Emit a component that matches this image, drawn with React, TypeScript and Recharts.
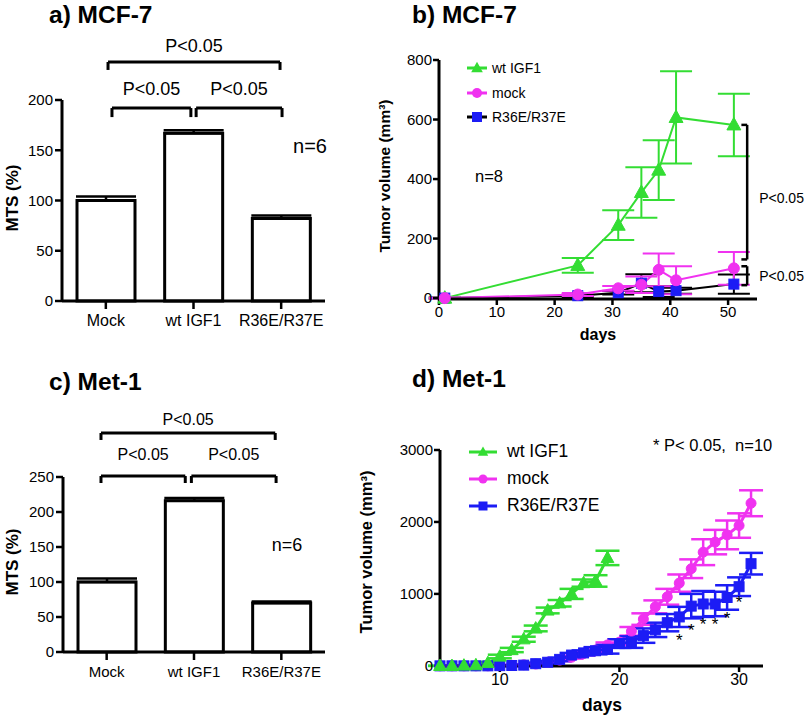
import React from 'react';
import {
  BarChart, Bar, LineChart, Line, XAxis, YAxis, ErrorBar,
  ReferenceLine, ReferenceDot, Legend,
} from 'recharts';

const GREEN = '#33dd33';
const MAGENTA = '#f032f0';
const BLUE = '#1c1cf5';
const FONT = '"Liberation Sans", Arial, Helvetica, sans-serif';

// ---------- Panel a / c : MTS bars ----------
const groups = ['Mock', 'wt IGF1', 'R36E/R37E'];
const groupPos = [0.5, 1.5, 2.5];
const mtsA = [100, 167, 82];
const mtsErrA = [4, 3, 3];
const mtsC = [100, 216, 70];
const mtsErrC = [5, 4, 2];
const mtsTicksA = [0, 50, 100, 150, 200];
const mtsTicksC = [0, 50, 100, 150, 200, 250];

// brackets (group-position units on x, MTS units on y)
const bracketsA = [
  { x1: 0.525, x2: 2.487, y: 237.8, tick: 229.9, label: 'P<0.05', offset: 10 },
  { x1: 0.57, x2: 1.47, y: 192, tick: 183, label: 'P<0.05', offset: 13 },
  { x1: 1.53, x2: 2.51, y: 192, tick: 183, label: 'P<0.05', offset: 13 },
];
const bracketsC = [
  { x1: 0.435, x2: 2.43, y: 312.9, tick: 302.9, label: 'P<0.05', offset: 8 },
  { x1: 0.435, x2: 1.4, y: 251.4, tick: 241.4, label: 'P<0.05', offset: 16 },
  { x1: 1.47, x2: 2.44, y: 251.4, tick: 241.4, label: 'P<0.05', offset: 16 },
];

// ---------- Panel b : MCF-7 tumor volume ----------
const daysB = [1, 24, 31, 35, 38, 41, 51];
const wtB = [0, 110, 245, 355, 430, 607, 582];
const wtErrB = [3, 25, 50, 85, 100, 155, 105];
const mockB = [0, 12, 33, 45, 95, 60, 100];
const mockErrB = [2, 5, 8, 28, 55, 47, 55];
const mutB = [0, 8, 18, 50, 22, 25, 47];
const mutErrB = [2, 4, 6, 30, 18, 10, 32];
const ticksBx = [0, 10, 20, 30, 40, 50];
const ticksBy = [0, 200, 400, 600, 800];

// ---------- Panel d : Met-1 tumor volume ----------
const daysD = [5, 6, 7, 8, 9, 10, 11, 12, 13, 14, 15, 16, 17, 18, 19, 20, 21, 22, 23, 24, 25, 26, 27, 28, 29, 30, 31];
const wtD = [0, 0, 5, 10, 40, 130, 220, 370, 520, 770, 870, 1000, 1150, 1180, 1500];
const wtErrD = [2, 2, 5, 8, 15, 25, 30, 35, 40, 40, 45, 70, 50, 80, 100];
const mockD = [0, 0, 0, 0, 0, 5, 8, 15, 25, 50, 80, 120, 170, 220, 290, 330, 480, 650, 820, 960, 1150, 1350, 1580, 1720, 1820, 1950, 2260];
const mockErrD = [0, 0, 0, 0, 0, 3, 5, 8, 10, 12, 15, 20, 25, 30, 35, 40, 60, 80, 90, 110, 120, 130, 180, 170, 200, 170, 180];
const mutD = [0, 0, 0, 0, 0, 3, 5, 10, 30, 50, 90, 150, 180, 210, 230, 310, 330, 420, 500, 600, 680, 830, 860, 860, 950, 1100, 1420];
const mutErrD = [0, 0, 0, 0, 0, 3, 5, 8, 15, 20, 25, 30, 35, 50, 60, 60, 80, 100, 100, 120, 140, 170, 180, 170, 170, 130, 150];
const starDays = [25, 26, 27, 28, 29, 30];
const starLevels = [360, 500, 585, 585, 670, 890];
const ticksDx = [10, 20, 30];
const ticksDy = [0, 1000, 2000, 3000];

const barDataA = groups.map((g, i) => ({ name: g, pos: groupPos[i], v: mtsA[i], e: [0, mtsErrA[i]] }));
const barDataC = groups.map((g, i) => ({ name: g, pos: groupPos[i], v: mtsC[i], e: [0, mtsErrC[i]] }));
const lineDataB = daysB.map((d, i) => ({
  day: d, wt: wtB[i], wtE: wtErrB[i], mock: mockB[i], mockE: mockErrB[i], mut: mutB[i], mutE: mutErrB[i],
}));
const lineDataD = daysD.map((d, i) => ({
  day: d,
  wt: i < wtD.length ? wtD[i] : null,
  wtE: i < wtErrD.length ? wtErrD[i] : null,
  mock: mockD[i], mockE: mockErrD[i], mut: mutD[i], mutE: mutErrD[i],
}));

// ---------- marker shapes ----------
const triPath = (cx: number, cy: number, s: number) =>
  `M${cx},${cy - s * 0.62} L${cx + s * 0.58},${cy + s * 0.42} L${cx - s * 0.58},${cy + s * 0.42} Z`;

const triDot = (color: string, s: number) => (p: any) => {
  const { cx, cy, index } = p;
  if (cx == null || cy == null || p.value == null) return <g key={`t${index}`} />;
  return <path key={`t${index}`} d={triPath(cx, cy, s)} fill={color} stroke={color} strokeWidth={1} />;
};
const circDot = (color: string, r: number) => (p: any) => {
  const { cx, cy, index } = p;
  if (cx == null || cy == null || p.value == null) return <g key={`c${index}`} />;
  return <circle key={`c${index}`} cx={cx} cy={cy} r={r} fill={color} stroke={color} strokeWidth={1} />;
};
const sqDot = (color: string, s: number) => (p: any) => {
  const { cx, cy, index } = p;
  if (cx == null || cy == null || p.value == null) return <g key={`s${index}`} />;
  return <rect key={`s${index}`} x={cx - s / 2} y={cy - s / 2} width={s} height={s} fill={color} stroke={color} strokeWidth={1} />;
};

type LegendItem = { name: string; line: string; marker: string; shape: 'tri' | 'circ' | 'sq' };

const LegendBox = ({ items, lineW, gap, rowH, fontSize, ms }: { items: LegendItem[]; lineW: number; gap: number; rowH: number; fontSize: number; ms: number }) => (
  <div style={{ fontFamily: FONT, fontSize, color: '#000', lineHeight: 1 }}>
    {items.map((it) => {
      const c = lineW / 2;
      const cy = 8;
      return (
        <div key={it.name} style={{ display: 'flex', alignItems: 'center', height: rowH }}>
          <svg width={lineW} height={16} style={{ display: 'block' }}>
            <line x1={0} y1={cy} x2={lineW} y2={cy} stroke={it.line} strokeWidth={3} />
            {it.shape === 'tri' && <path d={triPath(c, cy, ms)} fill={it.marker} />}
            {it.shape === 'circ' && <circle cx={c} cy={cy} r={ms / 2} fill={it.marker} />}
            {it.shape === 'sq' && <rect x={c - ms / 2} y={cy - ms / 2} width={ms} height={ms} fill={it.marker} />}
          </svg>
          <span style={{ marginLeft: gap, whiteSpace: 'nowrap' }}>{it.name}</span>
        </div>
      );
    })}
  </div>
);

const legendB: LegendItem[] = [
  { name: 'wt IGF1', line: GREEN, marker: GREEN, shape: 'tri' },
  { name: 'mock', line: MAGENTA, marker: MAGENTA, shape: 'circ' },
  { name: 'R36E/R37E', line: '#000', marker: BLUE, shape: 'sq' },
];
const legendD: LegendItem[] = [
  { name: 'wt IGF1', line: GREEN, marker: GREEN, shape: 'tri' },
  { name: 'mock', line: MAGENTA, marker: MAGENTA, shape: 'circ' },
  { name: 'R36E/R37E', line: BLUE, marker: BLUE, shape: 'sq' },
];

const axisLine = { stroke: '#000', strokeWidth: 3 };
const tickLine = { stroke: '#000', strokeWidth: 2.5 };

function bracketEls(list: typeof bracketsA, fontSize: number, prefix: string) {
  const out: React.ReactNode[] = [];
  list.forEach((b, i) => {
    out.push(
      <ReferenceLine key={`${prefix}h${i}`} ifOverflow="visible"
        segment={[{ x: b.x1, y: b.y }, { x: b.x2, y: b.y }]}
        stroke="#000" strokeWidth={3}
        label={{ value: b.label, position: 'top', offset: b.offset, fill: '#000', fontSize }} />,
      <ReferenceLine key={`${prefix}l${i}`} ifOverflow="visible"
        segment={[{ x: b.x1, y: b.y }, { x: b.x1, y: b.tick }]} stroke="#000" strokeWidth={3} />,
      <ReferenceLine key={`${prefix}r${i}`} ifOverflow="visible"
        segment={[{ x: b.x2, y: b.y }, { x: b.x2, y: b.tick }]} stroke="#000" strokeWidth={3} />,
    );
  });
  return out;
}

function MtsChart({ data, ticks, max, brackets, top, bottom, yW, xFont, bFont, prefix, h }: any) {
  return (
    <BarChart width={400} height={h} data={data}
      margin={{ top, right: 75, bottom, left: 0 }}>
      <XAxis dataKey="pos" type="number" domain={[0, 3]} ticks={groupPos} allowDataOverflow
        tickFormatter={(v: number) => groups[Math.floor(v)]}
        axisLine={axisLine} tickLine={tickLine} tickSize={8} tickMargin={6}
        height={40} tick={{ fill: '#000', fontSize: xFont }} interval={0} />
      <YAxis width={yW} domain={[0, max]} ticks={ticks} axisLine={axisLine} tickLine={tickLine}
        tickSize={7} tickMargin={2} tick={{ fill: '#000', fontSize: 15 }} interval={0} />
      <Bar dataKey="v" fill="#fff" stroke="#000" strokeWidth={3} barSize={58} isAnimationActive={false}>
        <ErrorBar dataKey="e" width={30} stroke="#000" strokeWidth={2.5} direction="y" />
      </Bar>
      {bracketEls(brackets, bFont, prefix)}
    </BarChart>
  );
}

const T = ({ x, y, children, size, bold, anchor = 'start', rot }: any) => (
  <text x={x} y={y} fontSize={size} fontWeight={bold ? 'bold' : 'normal'} textAnchor={anchor}
    dominantBaseline={rot != null ? 'central' : 'auto'} fill="#000"
    transform={rot != null ? `rotate(${rot} ${x} ${y})` : undefined} style={{ whiteSpace: 'pre' }}>
    {children}
  </text>
);

export default function App() {
  return (
    <div style={{ position: 'absolute', left: 0, top: 0, width: 805, height: 717, background: '#fff', fontFamily: FONT, overflow: 'hidden' }}>
      {/* a */}
      <div style={{ position: 'absolute', left: 0, top: 0 }}>
        <MtsChart data={barDataA} ticks={mtsTicksA} max={200} brackets={bracketsA} top={100} bottom={9} yW={62} xFont={16} bFont={18} prefix="a" h={350} />
      </div>
      {/* c */}
      <div style={{ position: 'absolute', left: 0, top: 360 }}>
        <MtsChart data={barDataC} ticks={mtsTicksC} max={250} brackets={bracketsC} top={117} bottom={25} yW={63} xFont={15} bFont={16} prefix="c" h={357} />
      </div>
      {/* b */}
      <div style={{ position: 'absolute', left: 360, top: 0 }}>
        <LineChart width={445} height={345} data={lineDataB} margin={{ top: 60, right: 48, bottom: 16, left: 0 }}>
          <XAxis dataKey="day" type="number" domain={[0, 55]} ticks={ticksBx} axisLine={axisLine} tickLine={tickLine}
            tickSize={6} tickMargin={1} height={30} tick={{ fill: '#000', fontSize: 15 }} interval={0} />
          <YAxis width={79} domain={[0, 800]} ticks={ticksBy} axisLine={axisLine} tickLine={tickLine}
            tickSize={6} tickMargin={1} tick={{ fill: '#000', fontSize: 15 }} interval={0} />
          <Legend layout="vertical" align="center" verticalAlign="middle"
            wrapperStyle={{ left: 107, top: 56, width: 'auto' }}
            content={() => <LegendBox items={legendB} lineW={20} gap={5} rowH={24.5} fontSize={14} ms={10} />} />
          <Line dataKey="mut" stroke="#000" strokeWidth={2} dot={sqDot(BLUE, 10)} isAnimationActive={false} legendType="none">
            <ErrorBar dataKey="mutE" width={16} stroke="#000" strokeWidth={2} direction="y" />
          </Line>
          <Line dataKey="wt" stroke={GREEN} strokeWidth={2} dot={triDot(GREEN, 12)} isAnimationActive={false}>
            <ErrorBar dataKey="wtE" width={16} stroke={GREEN} strokeWidth={2} direction="y" />
          </Line>
          <Line dataKey="mock" stroke={MAGENTA} strokeWidth={2} dot={circDot(MAGENTA, 5.5)} isAnimationActive={false}>
            <ErrorBar dataKey="mockE" width={16} stroke={MAGENTA} strokeWidth={2} direction="y" />
          </Line>
          <ReferenceLine ifOverflow="visible" segment={[{ x: 53.3, y: 582 }, { x: 53.3, y: 130 }]} stroke="#000" strokeWidth={2.5}
            label={{ value: 'P<0.05', position: 'right', offset: 12, fill: '#000', fontSize: 14, dy: 6 }} />
          <ReferenceLine ifOverflow="visible" segment={[{ x: 52.3, y: 582 }, { x: 53.3, y: 582 }]} stroke="#000" strokeWidth={2.5} />
          <ReferenceLine ifOverflow="visible" segment={[{ x: 52.3, y: 130 }, { x: 53.3, y: 130 }]} stroke="#000" strokeWidth={2.5} />
          <ReferenceLine ifOverflow="visible" segment={[{ x: 53.3, y: 107 }, { x: 53.3, y: 43.5 }]} stroke="#000" strokeWidth={2.5}
            label={{ value: 'P<0.05', position: 'right', offset: 12, fill: '#000', fontSize: 14 }} />
          <ReferenceLine ifOverflow="visible" segment={[{ x: 52.3, y: 107 }, { x: 53.3, y: 107 }]} stroke="#000" strokeWidth={2.5} />
          <ReferenceLine ifOverflow="visible" segment={[{ x: 52.3, y: 43.5 }, { x: 53.3, y: 43.5 }]} stroke="#000" strokeWidth={2.5} />
        </LineChart>
      </div>
      {/* d */}
      <div style={{ position: 'absolute', left: 360, top: 360 }}>
        <LineChart width={445} height={357} data={lineDataD} margin={{ top: 90, right: 42, bottom: 21, left: 0 }}>
          <XAxis dataKey="day" type="number" domain={[5, 32]} ticks={ticksDx} axisLine={axisLine} tickLine={tickLine}
            tickSize={6} tickMargin={2} height={30} tick={{ fill: '#000', fontSize: 16 }} interval={0} />
          <YAxis width={80} domain={[0, 3000]} ticks={ticksDy} axisLine={axisLine} tickLine={tickLine}
            tickSize={6} tickMargin={1} tick={{ fill: '#000', fontSize: 15 }} interval={0} />
          <Legend layout="vertical" align="center" verticalAlign="middle"
            wrapperStyle={{ left: 109, top: 78, width: 'auto' }}
            content={() => <LegendBox items={legendD} lineW={28} gap={10} rowH={27} fontSize={17.5} ms={9} />} />
          <Line dataKey="mock" stroke={MAGENTA} strokeWidth={3} dot={circDot(MAGENTA, 5)} isAnimationActive={false}>
            <ErrorBar dataKey="mockE" width={12} stroke={MAGENTA} strokeWidth={2.5} direction="y" />
          </Line>
          <Line dataKey="mut" stroke={BLUE} strokeWidth={3} dot={sqDot(BLUE, 10)} isAnimationActive={false}>
            <ErrorBar dataKey="mutE" width={12} stroke={BLUE} strokeWidth={2.5} direction="y" />
          </Line>
          <Line dataKey="wt" stroke={GREEN} strokeWidth={3} dot={triDot(GREEN, 11)} isAnimationActive={false} connectNulls={false}>
            <ErrorBar dataKey="wtE" width={12} stroke={GREEN} strokeWidth={2.5} direction="y" />
          </Line>
          {starDays.map((d, i) => (
            <ReferenceDot key={`st${d}`} x={d} y={starLevels[i]} r={0} fill="none" stroke="none" ifOverflow="visible"
              label={{ value: '*', position: 'center', fill: '#000', fontSize: 17 }} />
          ))}
        </LineChart>
      </div>
      {/* overlay texts */}
      <svg width={805} height={717} style={{ position: 'absolute', left: 0, top: 0, pointerEvents: 'none' }}>
        <T x={49} y={22.5} size={24.5} bold>a) MCF-7</T>
        <T x={412} y={22.5} size={24.5} bold>b) MCF-7</T>
        <T x={49} y={390} size={24.5} bold>c) Met-1</T>
        <T x={412} y={387} size={24.5} bold>d) Met-1</T>
        <T x={12} y={198} size={17} bold anchor="middle" rot={-90}>MTS (%)</T>
        <T x={12} y={562} size={17} bold anchor="middle" rot={-90}>MTS (%)</T>
        <T x={384} y={176} size={15.5} bold anchor="middle" rot={-90}>Tumor volume (mm³)</T>
        <T x={366} y={552} size={16.5} bold anchor="middle" rot={-90}>Tumor volume (mm³)</T>
        <T x={598} y={334} size={16} bold anchor="middle" rot={0}>days</T>
        <T x={602} y={705} size={17.5} bold anchor="middle" rot={0}>days</T>
        <T x={310} y={146} size={20} anchor="middle" rot={0}>n=6</T>
        <T x={287} y={545} size={18} anchor="middle" rot={0}>n=6</T>
        <T x={475} y={176} size={16.5} rot={0}>n=8</T>
        <T x={653} y={445} size={16.5} rot={0}>{'* P< 0.05,  n=10'}</T>
      </svg>
    </div>
  );
}
